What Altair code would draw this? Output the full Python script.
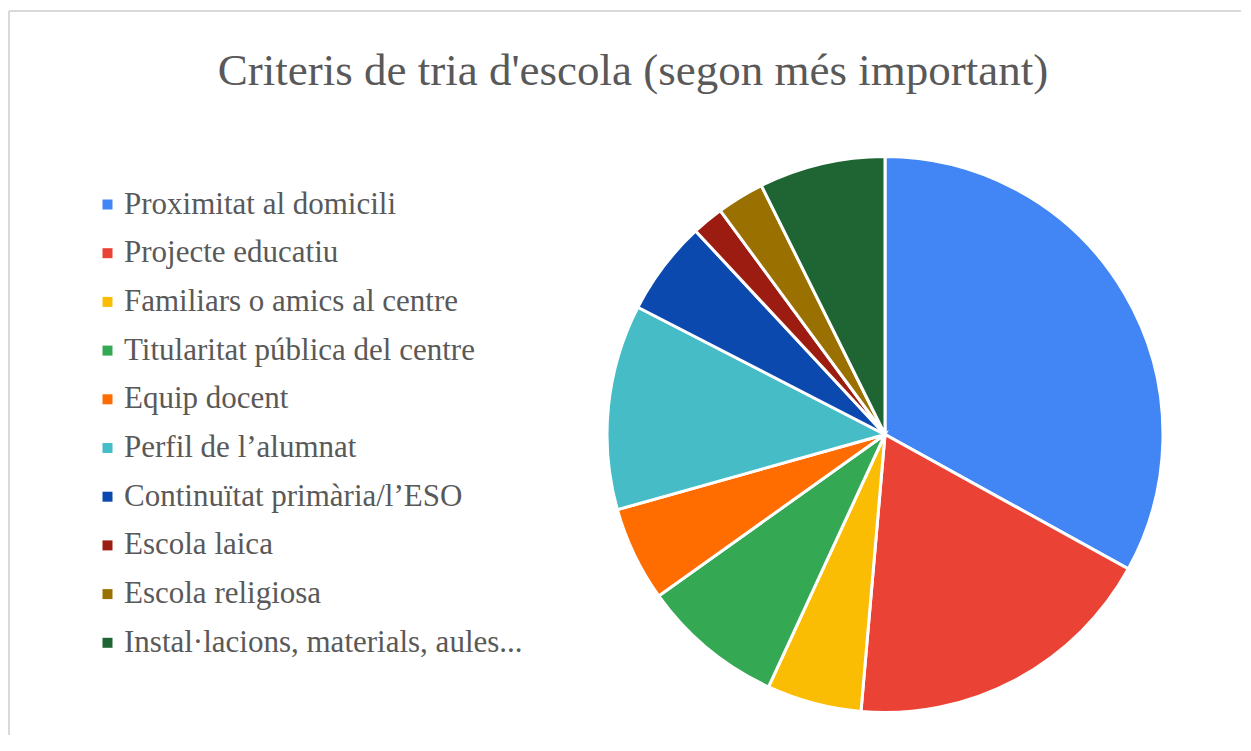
import altair as alt
import pandas as pd

title_text = "Criteris de tria d'escola (segon més important)"
categories = [
    "Proximitat al domicili",
    "Projecte educatiu",
    "Familiars o amics al centre",
    "Titularitat pública del centre",
    "Equip docent",
    "Perfil de l\u2019alumnat",
    "Continuïtat primària/l\u2019ESO",
    "Escola laica",
    "Escola religiosa",
    "Instal·lacions, materials, aules...",
]
values = [36, 20, 6, 9, 6, 13, 6, 2, 3, 8]
colors = ["#4285F4", "#EA4335", "#FBBC04", "#34A853", "#FF6D01",
          "#46BDC6", "#0B49AF", "#9C1C11", "#9A7000", "#1F6534"]

df = pd.DataFrame({"cat": categories, "val": values, "ord": list(range(len(values)))})

W, H = 1232, 724
FONT = "Liberation Serif"

pie = alt.Chart(df).mark_arc(outerRadius=278, stroke="white", strokeWidth=3).encode(
    theta=alt.Theta("val:Q", stack=True),
    order=alt.Order("ord:Q"),
    x=alt.value(876),
    y=alt.value(423.5),
    color=alt.Color(
        "cat:N",
        scale=alt.Scale(domain=categories, range=colors),
        sort=categories,
        legend=alt.Legend(
            title=None, orient="none", legendX=83, legendY=178,
            symbolType="square", symbolSize=100, symbolStrokeWidth=0,
            labelFont=FONT, labelFontSize=31, labelColor="#595959",
            labelOffset=1, rowPadding=16.7, padding=0, labelLimit=700,
        ),
    ),
)

title = alt.Chart(pd.DataFrame({"t": [title_text]})).mark_text(
    font=FONT, fontSize=45, color="#595959", align="center", baseline="alphabetic"
).encode(text="t:N", x=alt.value(624), y=alt.value(74))

frame_top = alt.Chart(pd.DataFrame({"a": [0]})).mark_rule(color="#D9D9D9", strokeWidth=2).encode(
    x=alt.value(0), x2=alt.value(W), y=alt.value(0))
frame_left = alt.Chart(pd.DataFrame({"a": [0]})).mark_rule(color="#D9D9D9", strokeWidth=2).encode(
    x=alt.value(0), y=alt.value(0), y2=alt.value(H))

chart = alt.layer(frame_top, frame_left, title, pie).properties(
    width=W, height=H,
    autosize=alt.AutoSizeParams(type="none"),
    padding={"left": 1, "top": 3, "right": 0, "bottom": 0},
).configure_view(stroke=None)

chart.save("out.html", embed_options={"renderer": "svg", "actions": False})
